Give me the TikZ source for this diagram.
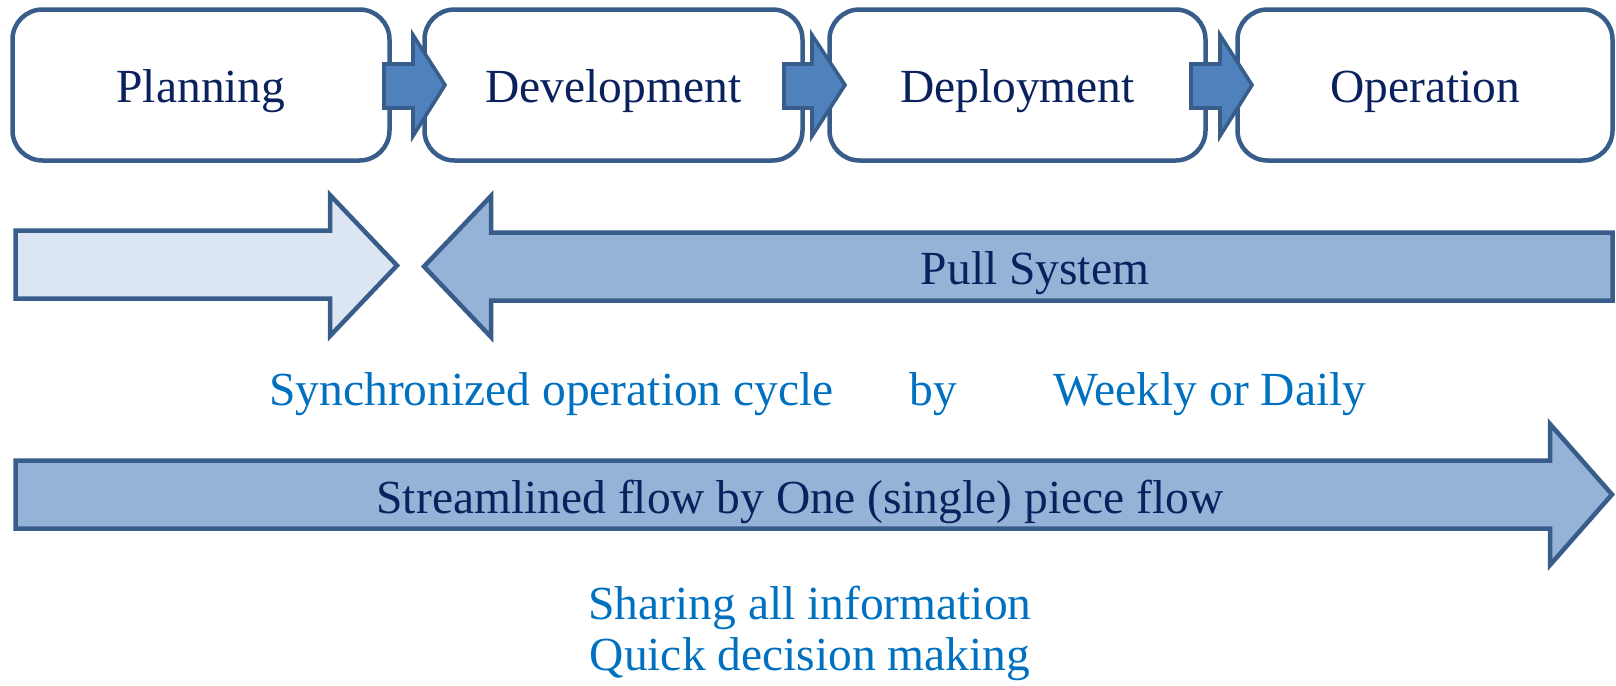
\documentclass[tikz,border=0pt]{standalone}
\usepackage{fontspec}
\setmainfont{Liberation Serif}
\definecolor{edge}{HTML}{385D8A}
\definecolor{midfill}{HTML}{4F81BD}
\definecolor{lightfill}{HTML}{DCE6F2}
\definecolor{pullfill}{HTML}{95B3D7}
\definecolor{navy}{HTML}{0B215E}
\definecolor{bluetxt}{HTML}{0070C0}
\begin{document}
\begin{tikzpicture}[x=0.5pt,y=-0.5pt,
  bigfont/.style={font=\fontsize{23.75}{28}\selectfont},
  stagebox/.style={draw=edge, line width=2.25pt, rounded corners=15pt, fill=white,
    minimum width=189pt, minimum height=75.5pt, inner sep=0pt, text=navy, bigfont,
    text height=17pt, text depth=0pt},
  smallarrow/.style={draw=edge, fill=midfill, line width=1.8pt},
  bigarrow/.style={draw=edge, line width=2.25pt},
  navytext/.style={text=navy, bigfont, inner sep=0pt},
  bluetext/.style={text=bluetxt, bigfont, inner sep=0pt}]
\useasboundingbox (0,0) rectangle (1616,685);

% stage boxes
\node[stagebox, minimum width=188.5pt] (plan) at (201,85) {Planning};
\node[stagebox] (dev) at (613.5,85) {Development};
\node[stagebox, minimum width=188pt] (depl) at (1017.5,85) {Deployment};
\node[stagebox, minimum width=187.5pt] (oper) at (1425,85) {Operation};

% small block arrows between stages
\draw[smallarrow] (384,64) -- (413,64) -- (413,35) -- (445,85) -- (413,136) -- (413,108) -- (384,108) -- cycle;
\draw[smallarrow] (784,64) -- (812,64) -- (812,35) -- (845,85) -- (812,136) -- (812,108) -- (784,108) -- cycle;
\draw[smallarrow] (1191,64) -- (1220,64) -- (1220,35) -- (1252,85) -- (1220,136) -- (1220,108) -- (1191,108) -- cycle;

% push arrow (light)
\draw[bigarrow, fill=lightfill] (15.5,230.5) -- (330,230.5) -- (330,195) -- (397,265.5) -- (330,336) -- (330,298.5) -- (15.5,298.5) -- cycle;

% pull system arrow
\draw[bigarrow, fill=pullfill] (1612.5,232.5) -- (491,232.5) -- (491,196) -- (424,266.5) -- (491,337) -- (491,300.5) -- (1612.5,300.5) -- cycle;
\node[navytext, anchor=base] (pull) at (1035,284) {Pull System};

% synchronized line
\node[bluetext, anchor=base] (sync) at (551.5,405) {Synchronized operation cycle};
\node[bluetext, anchor=base] (by) at (933,405) {by};
\node[bluetext, anchor=base] (week) at (1210,405) {Weekly or Daily};

% streamlined flow arrow
\draw[bigarrow, fill=pullfill] (15.5,460.5) -- (1550,460.5) -- (1550,424) -- (1612,494.5) -- (1550,565) -- (1550,528.5) -- (15.5,528.5) -- cycle;
\node[navytext, anchor=base] (stream) at (800,513) {Streamlined flow by One (single) piece flow};

% bottom notes
\node[bluetext, anchor=base] (share) at (810,619) {Sharing all information};
\node[bluetext, anchor=base] (quick) at (810,670) {Quick decision making};
\end{tikzpicture}
\end{document}
